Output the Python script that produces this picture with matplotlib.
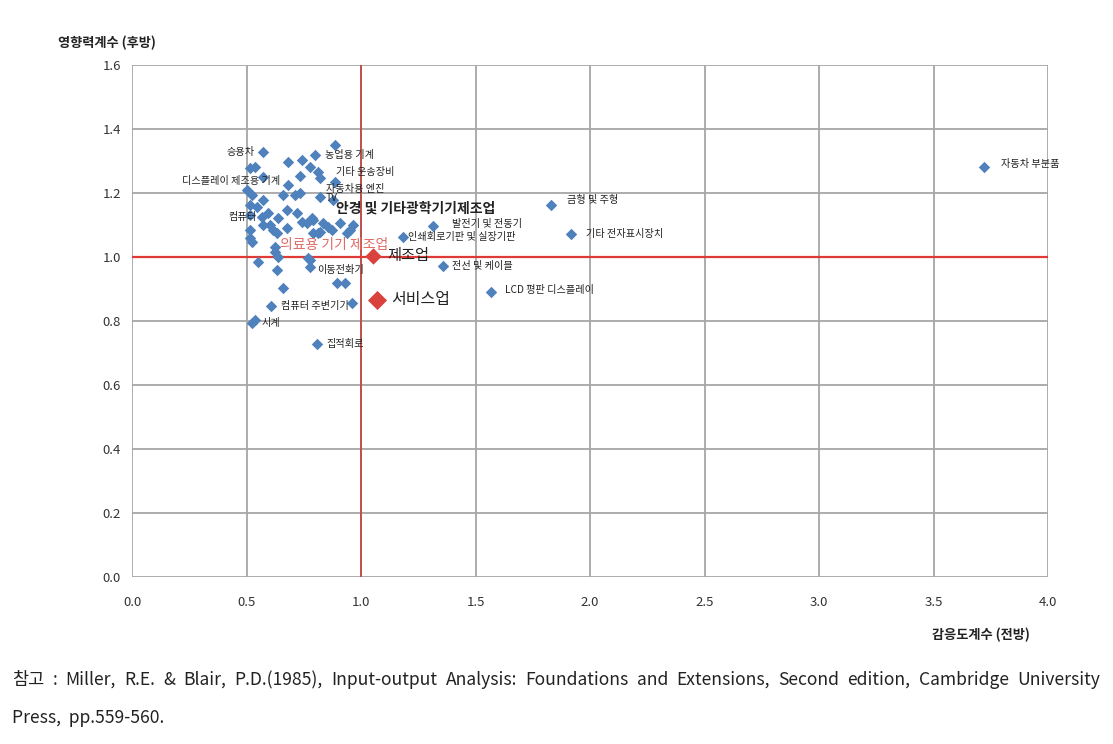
import matplotlib
matplotlib.use("Agg")
import matplotlib.pyplot as plt
import numpy as np

plt.rcParams["font.family"] = ["Noto Sans CJK KR", "DejaVu Sans"]

# ---- data -------------------------------------------------------------------
# unlabelled sectors: forward linkage (x), backward linkage (y)
other_x = [0.515, 0.515, 0.603, 0.677, 0.633, 0.764, 0.812, 0.856, 0.939, 0.965,
           0.624, 0.550, 0.633, 0.659, 0.769, 0.895, 0.930, 0.961, 0.537, 0.886,
           0.681, 0.742, 0.777, 0.821, 0.734, 0.515, 0.537, 0.572, 0.502, 0.524,
           0.659, 0.712, 0.734, 0.878, 0.572, 0.515, 0.546, 0.594, 0.677, 0.721,
           0.515, 0.638, 0.786, 0.572, 0.616, 0.742, 0.790, 0.834, 0.908, 0.790,
           0.821, 0.873, 0.952, 0.524, 0.624, 0.638, 0.777]
other_y = [1.084, 1.059, 1.100, 1.091, 1.075, 1.106, 1.075, 1.094, 1.075, 1.100,
           1.016, 0.984, 0.959, 0.903, 0.997, 0.919, 0.919, 0.856, 0.803, 1.350,
           1.297, 1.303, 1.281, 1.247, 1.253, 1.278, 1.281, 1.250, 1.209, 1.194,
           1.194, 1.194, 1.200, 1.178, 1.178, 1.163, 1.156, 1.138, 1.147, 1.138,
           1.131, 1.122, 1.122, 1.100, 1.084, 1.109, 1.116, 1.106, 1.106, 1.075,
           1.078, 1.084, 1.084, 1.047, 1.031, 1.000, 0.991]

# labelled sectors
names = ["승용차", "농업용 기계", "기타 운송장비", "디스플레이 제조용 기계", "자동차용 엔진",
         "TV", "컴퓨터", "인쇄회로기판 및 실장기판", "발전기 및 전동기", "금형 및 주형",
         "기타 전자표시장치", "자동차 부분품", "이동전화기", "전선 및 케이블",
         "LCD 평판 디스플레이", "컴퓨터 주변기기", "시계", "집적회로"]
named_x = [0.572, 0.799, 0.812, 0.681, 0.886, 0.821, 0.568, 1.183, 1.314, 1.830,
           1.917, 3.721, 0.777, 1.358, 1.568, 0.607, 0.524, 0.808]
named_y = [1.328, 1.319, 1.266, 1.225, 1.234, 1.188, 1.125, 1.063, 1.097, 1.163,
           1.072, 1.281, 0.969, 0.972, 0.891, 0.847, 0.794, 0.728]

# aggregate industries
agg_names = ["제조업", "서비스업"]
agg_x = [1.052, 1.070]
agg_y = [1.003, 0.866]

# label offsets in pixels (dx, dy, ha)
OFFS = {
    "승용차": (-8, 0, "right"), "농업용 기계": (10, 0, "left"),
    "기타 운송장비": (18, 0, "left"), "디스플레이 제조용 기계": (-8, 4, "right"),
    "자동차용 엔진": (-9, -7, "left"), "TV": (6, -1, "left"),
    "컴퓨터": (-6, 0, "right"), "인쇄회로기판 및 실장기판": (5, 0, "left"),
    "발전기 및 전동기": (19, 2, "left"), "금형 및 주형": (16, 5, "left"),
    "기타 전자표시장치": (15, 0, "left"), "자동차 부분품": (17, 3, "left"),
    "이동전화기": (7, -3, "left"), "전선 및 케이블": (9, 0, "left"),
    "LCD 평판 디스플레이": (14, 2, "left"), "컴퓨터 주변기기": (10, 0, "left"),
    "시계": (10, 0, "left"), "집적회로": (9, 0, "left"),
}

BLUE = "#4F81BD"
RED = "#D9423D"
GRID = "#A6A6A6"
TXT = "#333333"

fig = plt.figure(figsize=(11.13, 7.44), dpi=100)
ax = fig.add_axes([0.1186, 0.2245, 0.823, 0.688])

ax.set_xlim(0, 4.0)
ax.set_ylim(0, 1.6)
ax.set_xticks(np.arange(0, 4.01, 0.5))
ax.set_yticks(np.arange(0, 1.61, 0.2))
ax.set_xticklabels([f"{v:.1f}" for v in np.arange(0, 4.01, 0.5)])
ax.set_yticklabels([f"{v:.1f}" for v in np.arange(0, 1.61, 0.2)])
ax.tick_params(length=0, labelsize=9.5, colors=TXT, pad=8)
ax.tick_params(axis="x", pad=14)
ax.grid(True, color=GRID, lw=1.3)
ax.set_axisbelow(True)
for s in ax.spines.values():
    s.set_visible(False)

ax.axvline(1.0, color="#C0504D", lw=1.4, zorder=1.5)
ax.axhline(1.0, color="#E03A36", lw=1.6, zorder=1.5)

ax.scatter(other_x, other_y, marker="D", s=34, color=BLUE, zorder=3, linewidths=0)
ax.scatter(named_x, named_y, marker="D", s=34, color=BLUE, zorder=3, linewidths=0)
ax.scatter(agg_x[:1], agg_y[:1], marker="D", s=70, color=RED, zorder=4, linewidths=0)
ax.scatter(agg_x[1:], agg_y[1:], marker="D", s=95, color=RED, zorder=4, linewidths=0)

for n, x, y in zip(names, named_x, named_y):
    dx, dy, ha = OFFS[n]
    ax.annotate(n, (x, y), xytext=(dx, dy), textcoords="offset pixels",
                ha=ha, va="center", fontsize=7.3, color="#222222", zorder=5)

ax.annotate(agg_names[0], (agg_x[0], agg_y[0]), xytext=(14, 1), textcoords="offset pixels",
            ha="left", va="center", fontsize=11, color="#222222", zorder=5)
ax.annotate(agg_names[1], (agg_x[1], agg_y[1]), xytext=(14, 0), textcoords="offset pixels",
            ha="left", va="center", fontsize=11.5, color="#222222", zorder=5)

# highlighted sector captions
ax.text(0.89, 1.152, "안경 및 기타광학기기제조업", fontsize=10, fontweight="bold",
        color="#222222", ha="left", va="center", zorder=5)
ax.text(0.645, 1.037, "의료용 기기 제조업", fontsize=10, color="#E06A66",
        ha="left", va="center", zorder=5)

# axis titles
fig.text(58 / 1113, 1 - 43 / 744, "영향력계수 (후방)", fontsize=9.5, fontweight="bold",
         color="#222222", ha="left", va="center")
fig.text(1030 / 1113, 1 - 635 / 744, "감응도계수 (전방)", fontsize=9.5, fontweight="bold",
         color="#222222", ha="right", va="center")

# footnote, first line justified across the page width
FOOT_FS = 12.6
line1 = ("참고 : Miller, R.E. & Blair, P.D.(1985), Input-output Analysis: Foundations and "
         "Extensions, Second edition, Cambridge University").split(" ")
renderer = fig.canvas.get_renderer()
x_left, x_right = 12, 1100
words = []
total = 0
for w in line1:
    t = fig.text(0, 1 - 680 / 744, w, fontsize=FOOT_FS, color="#222222",
                 ha="left", va="center")
    wd = t.get_window_extent(renderer).width
    words.append((t, wd))
    total += wd
gap = (x_right - x_left - total) / (len(words) - 1)
xp = x_left
for t, wd in words:
    t.set_x(xp / 1113)
    xp += wd + gap
fig.text(12 / 1113, 1 - 718 / 744, "Press,  pp.559-560.", fontsize=FOOT_FS,
         color="#222222", ha="left", va="center")

fig.savefig("out.png", dpi=100, facecolor="white")
